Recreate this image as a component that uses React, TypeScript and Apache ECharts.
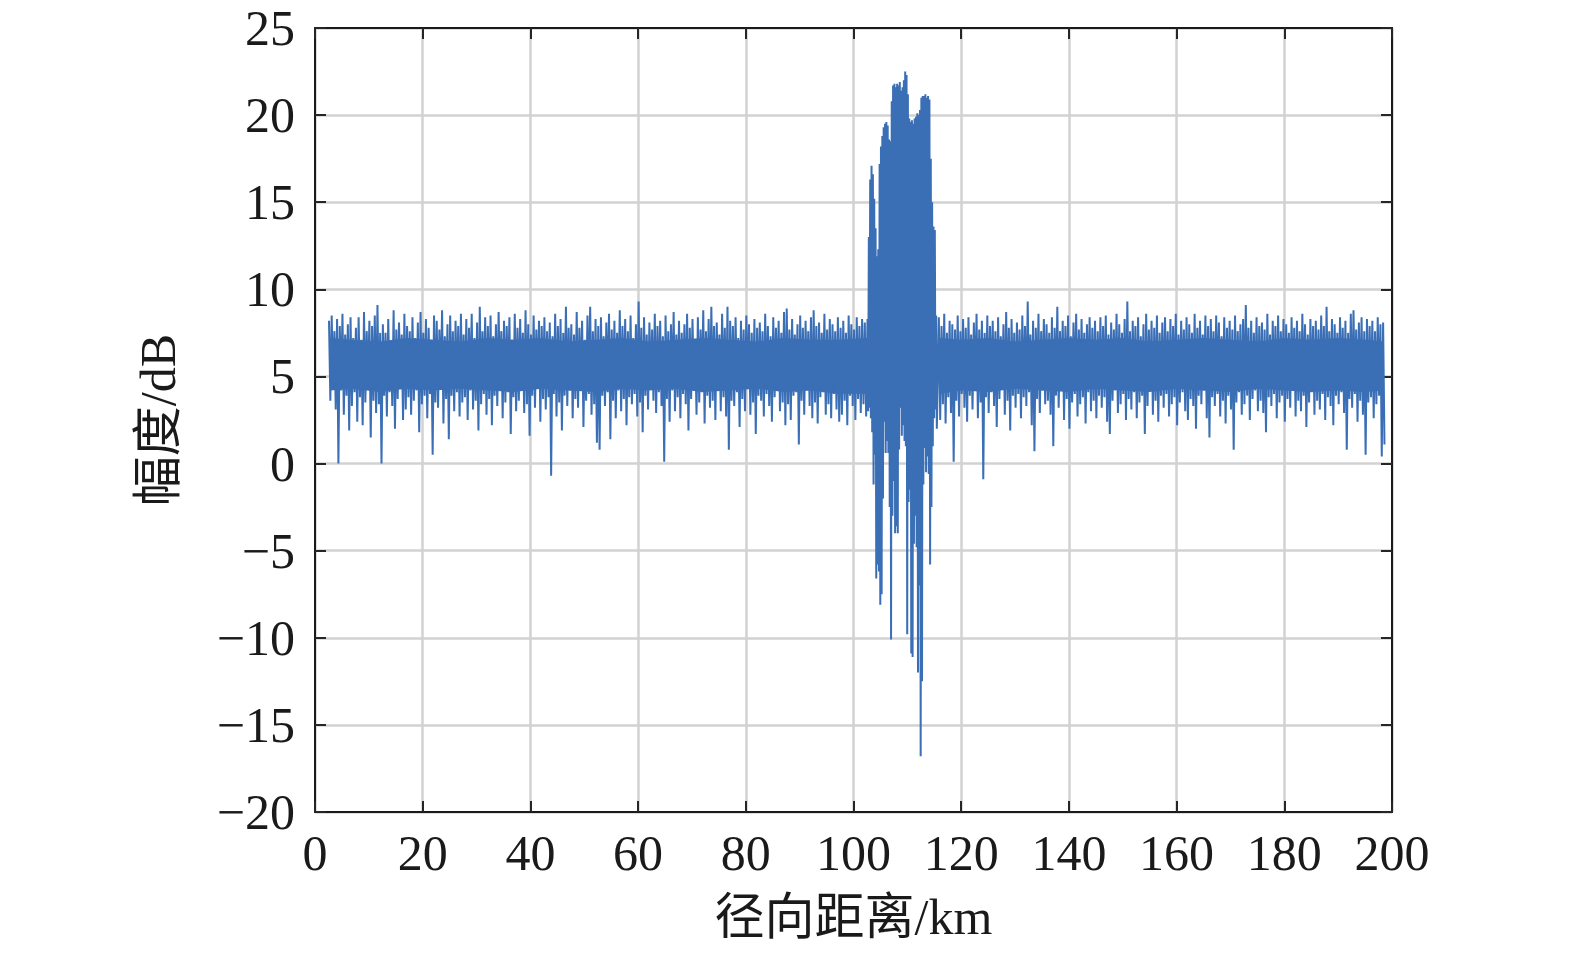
import React, { useEffect, useRef } from "react";
import * as echarts from "echarts";

// x axis ticks (km) and y axis ticks (dB)
const xTicks = [0, 20, 40, 60, 80, 100, 120, 140, 160, 180, 200];
const yTicks = [-20, -15, -10, -5, 0, 5, 10, 15, 20, 25];

// Noise floor, left of the target: starts at 2.6 km, one high/low pair every 0.5 km
const leftStart = 2.6;
const leftStep = 0.5;
const leftHigh = [
  8.2, 8.5, 7.6, 8.3, 7.9, 8.6, 7.4, 8.0, 8.4, 7.2,
  7.8, 8.4, 7.1, 8.7, 7.6, 8.2, 7.9, 8.5, 9.1, 7.5,
  8.0, 7.5, 8.3, 7.0, 8.8, 7.7, 8.1, 7.4, 8.6, 7.9,
  7.6, 8.4, 7.2, 8.1, 8.7, 7.5, 8.3, 7.8, 7.1, 8.5,
  8.2, 7.7, 8.8, 7.3, 8.0, 8.5, 7.6, 8.2, 7.9, 8.6,
  7.4, 8.3, 7.8, 8.6, 7.2, 8.1, 9.0, 7.6, 8.4, 7.9,
  8.5, 7.3, 8.0, 8.7, 7.6, 8.2, 7.9, 8.4, 7.1, 8.6,
  7.8, 8.3, 7.5, 8.8, 8.0, 7.4, 8.5, 7.7, 8.2, 7.9,
  8.4, 7.6, 8.1, 7.3, 8.6, 7.9, 8.3, 7.5, 9.0, 7.8,
  8.0, 7.4, 8.7, 7.8, 8.2, 7.1, 8.5, 9.0, 7.6, 8.3,
  7.9, 8.4, 7.3, 8.1, 8.6, 7.7, 8.2, 7.5, 8.8, 7.9,
  8.3, 7.6, 8.5, 7.2, 8.0, 9.3, 7.8, 8.4, 7.4, 8.1,
  7.7, 8.6, 7.9, 8.2, 7.3, 8.5, 7.6, 8.0, 8.7, 7.4,
  8.2, 7.5, 8.0, 8.6, 7.8, 8.3, 7.1, 8.4, 7.7, 8.8,
  7.6, 8.3, 9.0, 7.9, 8.1, 7.4, 8.6, 7.8, 9.0, 8.2,
  7.9, 8.4, 7.2, 8.2, 7.7, 8.5, 8.0, 7.5, 8.3, 7.8,
  8.1, 7.6, 8.6, 7.9, 7.3, 8.4, 7.8, 8.2, 7.5, 8.7,
  8.9, 7.7, 8.3, 7.4, 8.0, 8.5, 7.8, 8.2, 7.6, 8.4,
  8.8, 7.9, 8.1, 7.5, 8.6, 7.7, 8.3, 8.0, 7.6, 8.4,
  7.8, 8.2, 7.5, 8.5, 8.0, 7.7, 8.4, 7.9, 8.3, 8.1,
];
const leftLow = [
  3.6, 4.4, 3.1, 0.0, 4.2, 2.8, 3.9, 1.9, 3.3, 4.1,
  2.4, 3.8, 2.2, 3.5, 4.3, 1.5, 3.6, 2.9, 3.4, 0.0,
  3.9, 2.7, 4.1, 3.3, 2.0, 3.7, 4.4, 2.5, 3.1, 3.8,
  2.8, 3.6, 4.2, 1.8, 3.4, 3.9, 2.6, 4.0, 0.5, 3.5,
  3.2, 4.3, 2.3, 3.7, 1.4, 3.9, 3.0, 4.1, 2.7, 3.5,
  3.8, 2.5, 4.2, 3.1, 3.6, 1.9, 3.4, 4.0, 2.8, 3.7,
  2.2, 3.9, 3.3, 4.4, 2.6, 3.5, 4.1, 1.7, 3.8, 3.0,
  3.6, 4.2, 2.9, 3.4, 1.6, 3.9, 3.2, 4.3, 2.4, 3.7,
  3.1, 3.8, -0.7, 4.0, 2.7, 3.5, 1.9, 3.9, 3.3, 4.2,
  2.6, 3.7, 3.2, 4.3, 2.1, 3.6, 4.0, 2.8, 3.4, 1.2,
  0.8, 3.9, 3.3, 4.1, 1.4, 3.6, 2.6, 4.2, 3.0, 3.7,
  2.2, 3.8, 3.4, 4.0, 2.7, 3.5, 1.8, 3.9, 3.1, 4.3,
  3.6, 2.9, 4.1, 3.3, 0.1, 3.7, 2.4, 4.2, 3.0, 3.8,
  2.6, 4.0, 3.4, 1.9, 3.7, 4.3, 2.8, 3.5, 4.1, 2.3,
  3.9, 3.2, 3.6, 2.5, 4.2, 3.0, 3.8, 2.7, 0.8, 3.6,
  3.3, 4.1, 2.1, 3.7, 3.0, 4.3, 2.8, 3.5, 1.7, 3.9,
  3.6, 2.7, 4.0, 3.3, 2.4, 3.8, 4.2, 3.0, 3.5, 2.2,
  3.4, 2.5, 3.9, 4.1, 1.1, 3.6, 2.8, 4.2, 3.3, 2.6,
  3.5, 2.3, 3.8, 4.1, 2.8, 3.4, 2.6, 4.0, 3.1, 2.4,
  2.8, 3.6, 2.2, 3.9, 3.3, 2.5, 3.7, 2.9, 3.4, 2.7,
];

// Target echo: starts at 102.6 km, one high/low pair every 0.25 km
const centerStart = 102.6;
const centerStep = 0.25;
const centerHigh = [
  8.3, 13.0, 16.3, 17.1, 16.6, 15.2, 13.5, 11.9, 12.3, 17.2,
  18.2, 18.8, 19.3, 19.5, 19.6, 19.4, 18.6, 18.5, 20.8, 21.7,
  21.8, 21.6, 21.8, 21.7, 21.9, 21.4, 21.6, 22.0, 22.5, 22.3,
  21.2, 19.8, 19.6, 19.7, 19.5, 19.8, 19.9, 20.1, 20.0, 20.3,
  21.0, 21.1, 21.1, 21.2, 21.0, 21.1, 20.9, 17.5, 15.0, 13.6,
  13.4, 8.5,
];
const centerLow = [
  3.0, 3.2, 2.6, 1.8, -1.2, 0.5, -6.6, -5.8, -6.2, -8.1,
  -7.5, -2.0, 2.4, 0.6, 1.3, 0.6, -2.5, -10.1, -3.0, -1.0,
  -4.0, -3.6, -4.0, 0.8, 3.2, 1.6, 2.2, 1.3, 1.0, -9.8,
  -2.2, -1.5, -10.9, -11.1, -4.6, -3.0, -4.8, -12.0, -7.0, -16.8,
  -12.5, -1.2, 0.9, -0.5, 0.4, -0.6, -5.8, -2.5, 1.0, 2.6,
  3.1, 2.0,
];

// Noise floor, right of the target: starts at 115.85 km, one pair every 0.5 km
const rightStart = 115.85;
const rightStep = 0.5;
const rightHigh = [
  8.4, 7.9, 8.6, 7.5, 8.2, 8.0, 7.7, 8.5, 7.6, 8.3,
  7.8, 8.4, 7.4, 8.1, 8.6, 7.7, 8.2, 7.5, 8.5, 7.9,
  8.2, 7.6, 8.4, 7.3, 8.0, 8.7, 7.8, 8.3, 7.5, 8.1,
  7.7, 8.5, 7.9, 9.3, 7.4, 8.2, 7.8, 8.6, 7.6, 8.3,
  8.0, 7.5, 8.4, 7.8, 9.0, 7.6, 8.2, 7.9, 8.5, 7.3,
  8.1, 8.6, 7.7, 8.3, 7.5, 8.0, 8.4, 7.8, 8.2, 7.6,
  8.4, 7.9, 8.5, 7.4, 8.1, 7.7, 8.6, 8.0, 7.5, 8.3,
  9.3, 7.6, 8.2, 7.9, 8.4, 7.3, 8.0, 8.6, 7.7, 8.2,
  7.8, 8.5, 7.5, 8.1, 8.4, 7.6, 8.3, 7.9, 8.6, 7.4,
  8.2, 7.7, 8.4, 8.0, 7.5, 8.6, 7.8, 8.2, 7.4, 8.5,
  7.9, 8.3, 7.6, 8.5, 8.1, 7.3, 8.4, 7.8, 8.2, 7.7,
  8.5, 7.6, 8.0, 8.3, 9.1, 7.8, 8.2, 7.5, 8.4, 7.9,
  8.1, 7.7, 8.6, 7.4, 8.2, 7.9, 8.5, 7.6, 8.3, 8.0,
  7.5, 8.4, 7.8, 8.2, 7.6, 8.6, 8.0, 7.4, 8.3, 7.9,
  8.2, 7.7, 8.5, 7.9, 9.0, 7.6, 8.3, 8.0, 7.5, 8.4,
  7.8, 8.2, 7.5, 8.6, 8.8, 7.7, 8.1, 8.4, 7.6, 8.3,
  7.9, 8.2, 7.6, 8.4, 8.0, 8.1,
];
const rightLow = [
  2.5, 3.4, 2.3, 3.8, 2.9, 0.1, 3.6, 2.7, 4.0, 3.2,
  2.4, 3.9, 3.1, 4.2, 2.6, 3.5, -0.9, 3.8, 2.9, 4.1,
  3.3, 2.1, 3.7, 4.3, 2.8, 3.6, 1.9, 3.9, 3.2, 4.0,
  2.6, 3.8, 3.3, 4.1, 2.2, 0.7, 3.7, 2.9, 4.2, 3.4,
  3.6, 2.8, 1.0, 3.9, 3.2, 4.3, 2.5, 3.7, 2.0, 3.5,
  4.0, 2.7, 3.4, 3.8, 2.3, 4.1, 3.0, 3.6, 2.6, 3.9,
  3.2, 3.8, 2.4, 1.7, 3.6, 4.2, 2.9, 3.4, 4.0, 2.5,
  3.7, 3.1, 4.1, 2.6, 3.5, 3.9, 1.7, 3.3, 4.2, 2.8,
  3.6, 2.4, 3.9, 3.2, 4.0, 2.7, 3.4, 3.8, 2.2, 3.5,
  4.1, 3.0, 2.5, 3.7, 3.3, 2.0, 3.9, 3.4, 4.2, 2.6,
  1.5, 3.8, 3.3, 4.0, 2.7, 3.6, 2.3, 3.9, 3.1, 0.8,
  3.5, 4.1, 2.8, 3.4, 3.9, 2.5, 3.7, 4.2, 3.0, 3.6,
  2.9, 1.8, 3.8, 3.3, 4.0, 2.6, 3.5, 3.9, 2.4, 3.7,
  3.2, 4.2, 2.7, 3.6, 3.0, 3.9, 2.1, 3.5, 4.1, 2.8,
  3.6, 3.1, 4.0, 2.5, 3.8, 3.3, 2.2, 3.9, 3.4, 4.1,
  2.9, 0.8, 3.7, 3.2, 4.0, 2.4, 3.6, 2.8, 0.5, 3.5,
  3.8, 2.6, 3.4, 3.9, 0.4, 1.1,
];

// Solid core of the noise band (where the dense trace overlaps itself), read every ~5 km
const coreKmLeft = [2.8, 7, 12, 17, 22, 27, 32, 37, 42, 47, 52, 57, 62, 67, 72, 77, 82, 87, 92, 97, 102.7];
const coreTopLeft = [7.2, 7.1, 7.0, 7.2, 7.1, 7.0, 7.2, 7.1, 7.2, 7.0, 7.1, 7.2, 7.0, 7.1, 7.2, 7.1, 7.0, 7.2, 7.1, 7.1, 7.2];
const coreBottomLeft = [4.2, 4.3, 4.1, 4.3, 4.2, 4.3, 4.2, 4.1, 4.3, 4.2, 4.1, 4.3, 4.2, 4.3, 4.1, 4.2, 4.3, 4.1, 4.2, 4.0, 4.0];
const coreKmRight = [115.9, 120, 125, 130, 135, 140, 145, 150, 155, 160, 165, 170, 175, 180, 185, 190, 195, 198.3];
const coreTopRight = [7.2, 7.1, 7.2, 7.0, 7.1, 7.2, 7.1, 7.2, 7.0, 7.1, 7.2, 7.1, 7.0, 7.2, 7.1, 7.2, 7.1, 7.0];
const coreBottomRight = [4.0, 4.2, 4.1, 4.3, 4.2, 4.1, 4.3, 4.2, 4.1, 4.3, 4.2, 4.1, 4.3, 4.2, 4.1, 4.2, 4.1, 4.2];
const coreMid = 5.6;

function pairs(start: number, step: number, highs: number[], lows: number[]) {
  const out: number[][] = [];
  highs.forEach((h, i) => {
    const x = start + i * step;
    out.push([x, h]);
    out.push([x + step / 2, lows[i]]);
  });
  return out;
}

const zip = (xs: number[], ys: number[]) => xs.map((x, i) => [x, ys[i]]);

const LINE_COLOR = "#3a6eb5";
const FONT = "'Liberation Serif', 'Times New Roman', 'Noto Sans CJK SC', serif";

const fmt = (v: number) => (v < 0 ? "\u2212" + Math.abs(v) : String(v));

export default function App() {
  const ref = useRef<HTMLDivElement>(null);
  useEffect(() => {
    document.documentElement.style.overflow = "hidden";
    document.body.style.margin = "0";
    document.body.style.overflow = "hidden";
    if (!ref.current) return;
    const chart = echarts.init(ref.current, undefined, { renderer: "svg" });
    const data = [
      ...pairs(leftStart, leftStep, leftHigh, leftLow),
      ...pairs(centerStart, centerStep, centerHigh, centerLow),
      ...pairs(rightStart, rightStep, rightHigh, rightLow),
    ];
    const xMin = xTicks[0];
    const xMax = xTicks[xTicks.length - 1];
    const xInt = xTicks[1] - xTicks[0];
    const yMin = yTicks[0];
    const yMax = yTicks[yTicks.length - 1];
    const yInt = yTicks[1] - yTicks[0];
    const axisLine = { show: true, onZero: false, lineStyle: { color: "#1a1a1a", width: 2 } };
    const tick = { show: true, inside: true, length: 11, lineStyle: { color: "#262626", width: 2 } };
    const grid = { show: true, lineStyle: { color: "#d2d2d2", width: 2.5 } };
    const label = { color: "#1a1a1a", fontFamily: FONT, fontSize: 50, formatter: fmt };
    const coreSeries = (xs: number[], ys: number[]) => ({
      type: "line",
      data: zip(xs, ys),
      showSymbol: false,
      symbol: "none",
      lineStyle: { width: 0, opacity: 0 },
      areaStyle: { color: LINE_COLOR, opacity: 1, origin: coreMid },
      silent: true,
      z: 2,
    });
    chart.setOption({
      animation: false,
      backgroundColor: "#ffffff",
      grid: { left: 315, right: 183, top: 28, bottom: 145, containLabel: false },
      xAxis: [
        {
          type: "value", min: xMin, max: xMax, interval: xInt, position: "bottom",
          axisLine, axisTick: tick, splitLine: grid,
          axisLabel: { ...label, margin: 16 },
          name: "径向距离/km", nameLocation: "middle", nameGap: 80,
          nameTextStyle: { color: "#1a1a1a", fontFamily: FONT, fontSize: 50 },
        },
        {
          type: "value", min: xMin, max: xMax, interval: xInt, position: "top",
          axisLine, axisTick: tick, splitLine: { show: false }, axisLabel: { show: false },
        },
      ],
      yAxis: [
        {
          type: "value", min: yMin, max: yMax, interval: yInt, position: "left",
          axisLine, axisTick: tick, splitLine: grid,
          axisLabel: { ...label, margin: 20 },
          name: "幅度/dB", nameLocation: "middle", nameGap: 132, nameRotate: 90,
          nameTextStyle: { color: "#1a1a1a", fontFamily: FONT, fontSize: 50 },
        },
        {
          type: "value", min: yMin, max: yMax, interval: yInt, position: "right",
          axisLine, axisTick: tick, splitLine: { show: false }, axisLabel: { show: false },
        },
      ],
      series: [
        coreSeries(coreKmLeft, coreTopLeft),
        coreSeries(coreKmLeft, coreBottomLeft),
        coreSeries(coreKmRight, coreTopRight),
        coreSeries(coreKmRight, coreBottomRight),
        {
          type: "line",
          data,
          showSymbol: false,
          symbol: "none",
          lineStyle: { color: LINE_COLOR, width: 2 },
          itemStyle: { color: LINE_COLOR },
          z: 3,
        },
      ],
    });
    return () => chart.dispose();
  }, []);
  return (
    <div
      ref={ref}
      style={{ position: "absolute", left: 0, top: 0, width: 1575, height: 957, background: "#fff" }}
    />
  );
}
